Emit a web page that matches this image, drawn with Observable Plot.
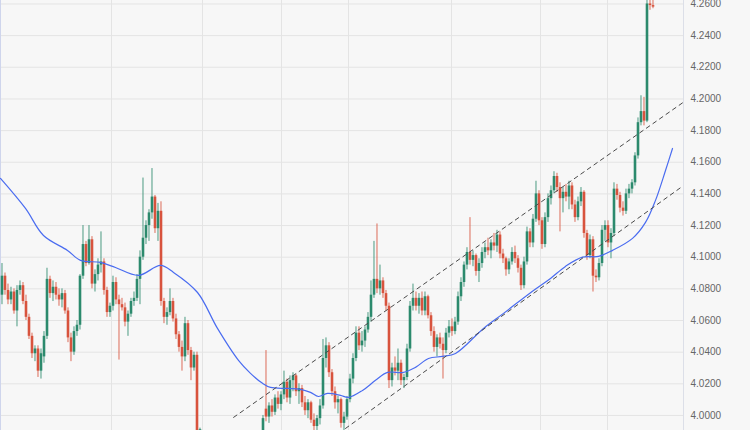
<!DOCTYPE html>
<html><head><meta charset="utf-8">
<script src="https://cdn.jsdelivr.net/npm/d3@7"></script>
<script src="https://cdn.jsdelivr.net/npm/@observablehq/plot@0.6"></script>
<style>html,body{margin:0;padding:0;background:#f7f7f7;} #chart svg{display:block}</style>
</head><body><div id="chart"></div>
<script>
// Candle OHLC values (index = candle slot; null = candle below visible range)
const open = [
4.0760,4.0880,4.0790,4.0730,4.0780,4.0660,4.0790,4.0820,4.0720,4.0620,
4.0500,4.0390,4.0420,4.0280,4.0370,4.0500,4.0860,4.0770,4.0810,4.0760,
4.0730,4.0770,4.0660,4.0490,4.0400,4.0530,4.0570,4.0880,4.1080,4.0960,
4.1110,4.0830,4.0890,4.0950,4.0970,4.0790,4.0650,4.0690,4.0840,4.0730,
4.0700,4.0680,4.0590,4.0640,4.0720,4.0740,4.0860,4.1000,4.1120,4.1200,
4.1280,4.1380,4.1180,4.1290,4.0720,4.0620,4.0650,4.0720,4.0610,4.0510,
4.0430,4.0370,4.0580,4.0410,4.0300,4.0380,3.9880,null,null,null,
null,null,null,null,null,null,null,null,null,null,
null,null,null,null,null,null,null,3.9860,4.0040,3.9990,
4.0060,4.0020,4.0110,4.0070,4.0130,4.0210,4.0110,4.0220,4.0250,4.0150,
4.0170,4.0080,4.0030,4.0080,3.9970,3.9930,3.9980,4.0060,4.0360,4.0440,
4.0270,4.0150,4.0080,4.0100,3.9950,3.9990,4.0100,4.0230,4.0360,4.0520,
4.0440,4.0470,4.0540,4.0620,4.0760,4.0860,4.0800,4.0850,4.0770,4.0690,
4.0220,4.0300,4.0280,4.0330,4.0220,4.0240,4.0420,4.0690,4.0740,4.0690,
4.0740,4.0660,4.0750,4.0630,4.0530,4.0430,4.0490,4.0450,4.0410,4.0520,
4.0560,4.0530,4.0590,4.0750,4.0840,4.0950,4.1030,4.0980,4.1010,4.0910,
4.0960,4.1030,4.1060,4.1040,4.1090,4.1070,4.1140,4.1020,4.0990,4.0920,
4.0970,4.1030,4.0990,4.0930,4.0820,4.0970,4.1160,4.1090,4.1240,4.1400,
4.1230,4.1080,4.1250,4.1370,4.1420,4.1510,4.1440,4.1370,4.1410,4.1380,
4.1450,4.1330,4.1250,4.1350,4.1410,4.1150,4.1010,4.1110,4.0880,4.0870,
4.0960,4.1170,4.1200,4.1090,4.1150,4.1430,4.1390,4.1310,4.1290,4.1400,
4.1430,4.1470,4.1640,4.1850,4.1920,4.1860,4.2600,4.2590];
const high = [
4.0960,4.0900,4.0830,4.0810,4.0800,4.0820,4.0850,4.0840,4.0760,4.0640,
4.0520,4.0440,4.0440,4.0420,4.0530,4.0930,4.0880,4.0850,4.0840,4.0800,
4.0800,4.0790,4.0680,4.0520,4.0560,4.0600,4.0890,4.1200,4.1100,4.1200,
4.1130,4.0920,4.0990,4.1160,4.0990,4.0810,4.0710,4.0880,4.0870,4.0760,
4.0740,4.0710,4.0660,4.0740,4.0780,4.0890,4.1040,4.1500,4.1230,4.1300,
4.1560,4.1390,4.1340,4.1350,4.0740,4.0680,4.0800,4.0740,4.0640,4.0530,
4.0470,4.0620,4.0600,4.0430,4.0400,4.0400,3.9920,null,null,null,
null,null,null,null,null,null,null,null,null,null,
null,null,null,null,null,null,null,4.0000,4.0410,4.0080,
4.0100,4.0130,4.0150,4.0150,4.0280,4.0230,4.0250,4.0270,4.0260,4.0200,
4.0190,4.0120,4.0100,4.0090,4.0010,4.0000,4.0100,4.0480,4.0490,4.0460,
4.0290,4.0180,4.0120,4.0110,4.0020,4.0120,4.0260,4.0390,4.0560,4.0560,
4.0530,4.0560,4.0650,4.0850,4.1100,4.1210,4.0950,4.0870,4.0790,4.0710,
4.0330,4.0370,4.0420,4.0350,4.0260,4.0450,4.0720,4.0830,4.0780,4.0770,
4.0780,4.0780,4.0760,4.0650,4.0560,4.0510,4.0520,4.0490,4.0550,4.0600,
4.0610,4.0620,4.0780,4.0870,4.0970,4.1060,4.1250,4.1040,4.1020,4.0990,
4.1060,4.1090,4.1120,4.1110,4.1150,4.1170,4.1160,4.1050,4.1000,4.0990,
4.1060,4.1070,4.1010,4.0950,4.1000,4.1190,4.1180,4.1270,4.1480,4.1420,
4.1250,4.1280,4.1400,4.1450,4.1540,4.1530,4.1470,4.1440,4.1460,4.1480,
4.1470,4.1360,4.1380,4.1440,4.1420,4.1170,4.1140,4.1130,4.0920,4.0990,
4.1200,4.1230,4.1230,4.1180,4.1470,4.1460,4.1410,4.1350,4.1430,4.1460,
4.1490,4.1660,4.1880,4.2020,4.2010,4.2630,4.2640,4.2630];
const low = [
4.0700,4.0760,4.0700,4.0700,4.0640,4.0560,4.0760,4.0700,4.0600,4.0480,
4.0360,4.0340,4.0240,4.0230,4.0330,4.0480,4.0740,4.0720,4.0730,4.0690,
4.0680,4.0640,4.0460,4.0340,4.0380,4.0500,4.0540,4.0860,4.0940,4.0950,
4.0800,4.0780,4.0850,4.0900,4.0760,4.0620,4.0620,4.0660,4.0700,4.0350,
4.0660,4.0560,4.0500,4.0620,4.0690,4.0720,4.0700,4.0980,4.1080,4.1100,
4.1240,4.1150,4.1100,4.0690,4.0580,4.0570,4.0630,4.0590,4.0480,4.0400,
4.0280,4.0340,4.0380,4.0220,4.0280,3.9880,3.9850,null,null,null,
null,null,null,null,null,null,null,null,null,null,
null,null,null,null,null,null,null,3.9850,3.9960,3.9950,
3.9990,4.0000,4.0040,4.0030,4.0100,4.0080,4.0070,4.0150,4.0120,4.0070,
4.0050,4.0000,3.9980,3.9950,3.9900,3.9880,3.9940,4.0040,4.0300,4.0240,
4.0120,4.0040,4.0010,3.9920,3.9900,3.9970,4.0080,4.0200,4.0340,4.0410,
4.0400,4.0430,4.0520,4.0590,4.0740,4.0770,4.0760,4.0740,4.0660,4.0170,
4.0180,4.0250,4.0220,4.0190,4.0170,4.0220,4.0400,4.0660,4.0660,4.0640,
4.0630,4.0630,4.0610,4.0500,4.0400,4.0370,4.0420,4.0230,4.0390,4.0490,
4.0500,4.0510,4.0570,4.0720,4.0810,4.0920,4.0950,4.0940,4.0880,4.0840,
4.0930,4.0990,4.1010,4.0990,4.1040,4.1030,4.0990,4.0960,4.0880,4.0890,
4.0950,4.0960,4.0900,4.0790,4.0800,4.0950,4.1060,4.1060,4.1220,4.1200,
4.1050,4.1060,4.1220,4.1330,4.1400,4.1410,4.1160,4.1280,4.1350,4.1300,
4.1300,4.1220,4.1230,4.1320,4.1120,4.0980,4.0990,4.0780,4.0840,4.0850,
4.0940,4.1100,4.1060,4.0990,4.1130,4.1360,4.1280,4.1260,4.1270,4.1370,
4.1400,4.1450,4.1620,4.1830,4.1830,4.1850,4.2560,4.2570];
const close = [
4.0880,4.0790,4.0730,4.0780,4.0660,4.0790,4.0820,4.0720,4.0620,4.0500,
4.0390,4.0420,4.0280,4.0390,4.0500,4.0860,4.0770,4.0810,4.0760,4.0730,
4.0770,4.0660,4.0490,4.0400,4.0530,4.0570,4.0880,4.1080,4.0960,4.1110,
4.0830,4.0890,4.0950,4.0970,4.0790,4.0650,4.0690,4.0840,4.0730,4.0700,
4.0680,4.0590,4.0640,4.0720,4.0740,4.0860,4.1000,4.1120,4.1200,4.1280,
4.1380,4.1180,4.1290,4.0720,4.0620,4.0650,4.0720,4.0610,4.0510,4.0430,
4.0370,4.0580,4.0410,4.0300,4.0380,3.9900,3.9910,null,null,null,
null,null,null,null,null,null,null,null,null,null,
null,null,null,null,null,null,null,3.9980,3.9990,4.0060,
4.0020,4.0110,4.0070,4.0130,4.0210,4.0110,4.0220,4.0250,4.0150,4.0170,
4.0080,4.0030,4.0080,3.9970,3.9930,3.9980,4.0060,4.0360,4.0440,4.0270,
4.0150,4.0080,4.0100,3.9950,3.9990,4.0100,4.0230,4.0360,4.0520,4.0440,
4.0470,4.0540,4.0620,4.0760,4.0860,4.0800,4.0850,4.0770,4.0690,4.0220,
4.0300,4.0280,4.0330,4.0220,4.0240,4.0420,4.0690,4.0740,4.0690,4.0740,
4.0660,4.0750,4.0630,4.0530,4.0430,4.0490,4.0450,4.0410,4.0520,4.0560,
4.0530,4.0590,4.0750,4.0840,4.0950,4.1030,4.0980,4.1010,4.0910,4.0960,
4.1030,4.1060,4.1040,4.1090,4.1070,4.1140,4.1020,4.0990,4.0920,4.0970,
4.1030,4.0990,4.0930,4.0820,4.0970,4.1160,4.1090,4.1240,4.1400,4.1230,
4.1080,4.1250,4.1370,4.1420,4.1510,4.1440,4.1370,4.1410,4.1380,4.1450,
4.1330,4.1250,4.1350,4.1410,4.1150,4.1010,4.1110,4.0880,4.0870,4.0960,
4.1170,4.1200,4.1090,4.1150,4.1430,4.1390,4.1310,4.1290,4.1400,4.1430,
4.1470,4.1640,4.1850,4.1920,4.1860,4.2600,4.2590,4.2580];

// Moving average (candle slot, value)
const maIndex = [-0.5,7.83,13.83,21.83,26.17,32.83,37.83,45.5,52.83,57.17,65.17,71.83,78.83,82.83,86.83,89.5,95.17,99.5,102.83,105.5,108.5,112.83,115.5,120.17,124.5,128.5,133.83,137.83,142.17,146.83,151.17,160.5,167.17,177.17,182.83,187.83,193.5,198.83,203.5,210.17,214.5,217.83,221.17,223.5];
const maValue = [4.1498,4.1308,4.1137,4.1043,4.0980,4.0967,4.0935,4.0885,4.0948,4.0904,4.0777,4.0550,4.0348,4.0266,4.0203,4.0177,4.0171,4.0165,4.0146,4.0120,4.0139,4.0127,4.0114,4.0158,4.0222,4.0272,4.0272,4.0304,4.0360,4.0373,4.0392,4.0550,4.0645,4.0790,4.0866,4.0942,4.1000,4.1005,4.1043,4.1119,4.1220,4.1359,4.1548,4.1687];

// Trend channel lines (candle slot, price)
const upperIndex = [77.2, 227.2];
const upperValue = [3.9988, 4.1980];
const lowerIndex = [114.5, 227.2];
const lowerValue = [3.9918, 4.1453];

// Axis ticks and session separators
const yTicks = [4.00,4.02,4.04,4.06,4.08,4.10,4.12,4.14,4.16,4.18,4.20,4.22,4.24,4.26];
const sessionBreaks = [36.5, 66.83, 93.17, 115.5, 149.83, 179.5, 201.83];

const candles = open.map((o, i) => ({i, o, h: high[i], l: low[i], c: close[i]})).filter(d => d.o != null);
const GREEN = "#2c8a6d", RED = "#d8533d";
const col = d => d.c >= d.o ? GREEN : RED;
const ma = maIndex.map((x, k) => ({x, y: maValue[k]}));
const upper = upperIndex.map((x, k) => ({x, y: upperValue[k]}));
const lower = lowerIndex.map((x, k) => ({x, y: lowerValue[k]}));

const chart = Plot.plot({
  width: 750, height: 430,
  marginLeft: 0, marginRight: 67, marginTop: 0, marginBottom: 0,
  style: {background: "#f7f7f7", color: "#666666", fontFamily: "Arial, 'Liberation Sans', sans-serif", fontSize: "10px"},
  x: {domain: [-0.5, 227.1667], axis: null},
  y: {domain: [3.9905, 4.2622], axis: null},
  color: {type: "identity"},
  marks: [
    Plot.gridY(yTicks, {stroke: "#e4e4e4", strokeOpacity: 1}),
    Plot.ruleX(sessionBreaks, {stroke: "#e4e4e4", strokeOpacity: 1}),
    Plot.frame({anchor: "left", stroke: "#cfd5ec"}),
    Plot.frame({anchor: "right", stroke: "#dcdfe8"}),
    Plot.ruleX(candles, {x: "i", y1: "l", y2: "h", stroke: col, strokeWidth: 1, strokeOpacity: 0.85, clip: true}),
    Plot.ruleX(candles, {x: "i", y1: "o", y2: "c", stroke: col, strokeWidth: 2.6, clip: true}),
    Plot.line(ma, {x: "x", y: "y", stroke: "#4a6cf0", strokeWidth: 1.2, curve: "catmull-rom", clip: true}),
    Plot.line(upper, {x: "x", y: "y", stroke: "#4a4a4a", strokeWidth: 1, strokeDasharray: "4,4", clip: true}),
    Plot.line(lower, {x: "x", y: "y", stroke: "#4a4a4a", strokeWidth: 1, strokeDasharray: "4,4", clip: true}),
    Plot.axisY(yTicks, {anchor: "right", tickSize: 0, tickPadding: 7, tickFormat: d3.format(".4f"), label: null})
  ]
});
document.getElementById("chart").append(chart);
</script>
</body></html>
